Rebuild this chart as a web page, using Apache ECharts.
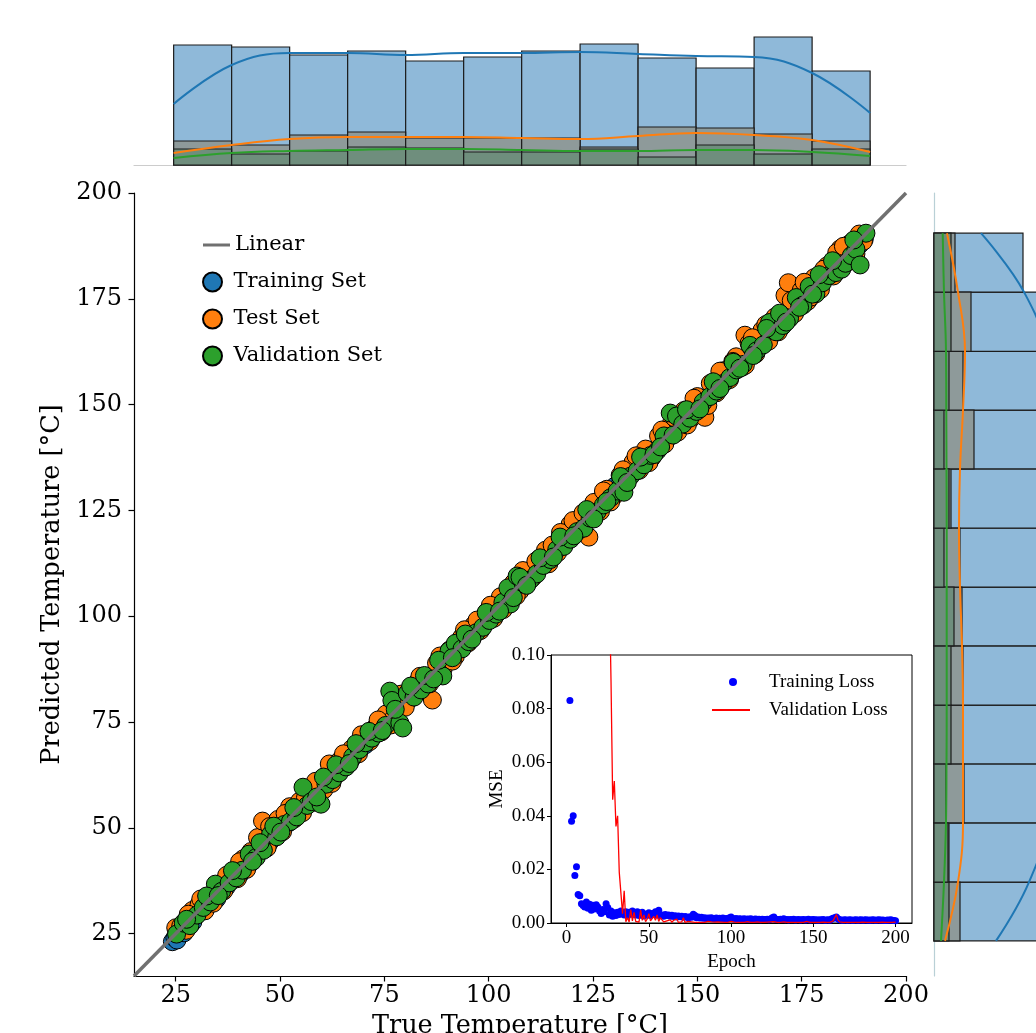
<!DOCTYPE html>
<html><head><meta charset="utf-8">
<script src="https://cdn.jsdelivr.net/npm/echarts@6/dist/echarts.min.js"></script>
<style>html,body{margin:0;padding:0;background:#fff}#c{width:1036px;height:1033px}</style>
</head><body><div id="c"></div>
<script>
// ---------- data ----------
const tickValues = [25, 50, 75, 100, 125, 150, 175, 200];
const epochTicks = [0, 50, 100, 150, 200];

const trainSet = [[24.2,23.1],[24.8,24.0],[25.3,23.5],[26.1,25.9],[27.0,25.2],[28.3,28.9],[29.1,27.8],[30.4,30.0],[31.2,31.9],[32.5,31.4],[33.6,34.1],[34.8,33.2],[35.9,36.4],[37.1,36.0],[38.2,37.4],[39.4,40.1],[40.5,39.2],[41.7,42.3],[42.8,41.6],[44.0,43.1],[45.1,44.6],[46.3,45.0],[47.4,46.5],[48.6,47.7],[49.7,49.1],[50.9,50.3],[52.0,51.2],[53.2,53.8],[54.3,53.5],[55.5,54.7],[56.6,56.9],[57.8,57.1],[58.9,58.4],[60.1,59.3],[61.2,61.8],[62.4,61.5],[63.5,63.9],[64.7,64.0],[65.8,65.2],[67.0,66.1],[68.1,67.4],[69.3,69.8],[70.4,69.6],[71.6,71.0],[72.7,72.3],[73.9,73.2],[75.0,74.4],[76.2,75.7],[77.3,76.5],[78.5,78.9],[79.6,79.1],[80.8,80.2],[81.9,81.6],[83.1,82.4],[84.2,84.6],[85.4,84.8],[86.5,86.0],[87.7,87.2],[88.8,89.5],[90.0,90.6],[91.1,90.4],[92.3,91.8],[93.4,93.0],[94.6,94.1],[95.7,95.2],[96.9,96.5],[98.0,98.4],[99.2,98.8],[100.3,100.0],[101.5,101.8],[102.6,102.1],[103.8,103.4],[104.9,104.5],[106.1,105.6],[107.2,107.0],[108.4,108.9],[109.5,109.1],[110.7,110.3],[111.8,111.5],[113.0,112.2],[114.1,113.6],[115.3,114.7],[116.4,116.1],[117.6,117.9],[118.7,118.3],[119.9,119.4],[121.0,121.7],[122.2,122.8],[123.3,123.0],[124.5,124.1],[125.6,125.9],[126.8,127.6],[127.9,127.3],[129.1,128.8],[130.2,130.7],[131.4,131.0],[132.5,132.0],[133.7,133.2],[134.8,134.1],[136.0,135.4],[137.1,136.6],[138.3,137.7],[139.4,139.0],[140.6,140.1],[141.7,141.2],[142.9,142.1],[144.0,143.4],[145.2,144.6],[146.3,145.8],[147.5,147.9],[148.6,148.1],[149.8,149.2],[150.9,150.3],[152.1,151.5],[153.2,152.7],[154.4,153.8],[155.5,155.1],[156.7,156.2],[157.8,157.3],[159.0,158.4],[160.1,159.6],[161.3,160.8],[162.4,161.7],[163.6,162.9],[164.7,164.0],[165.9,165.3],[167.0,166.3],[168.2,167.5],[169.3,168.6],[170.5,169.8],[171.6,170.9],[172.8,172.0],[173.9,173.3],[175.1,174.2],[176.2,175.6],[177.4,176.9],[178.5,177.7],[179.7,180.2],[180.8,180.1],[182.0,181.3],[183.1,182.5],[184.3,183.4],[185.4,184.8],[186.6,185.7],[187.7,186.9],[188.9,187.8],[190.0,189.1]];

const testSet = [[25.0,26.4],[26.2,26.8],[27.5,25.8],[29.0,30.5],[30.6,31.9],[32.0,30.4],[33.5,33.8],[35.2,36.6],[36.5,35.1],[38.1,39.3],[39.8,38.0],[41.2,42.7],[43.0,44.4],[44.6,47.7],[45.8,51.6],[46.9,45.3],[48.1,48.9],[49.5,52.0],[50.6,49.1],[52.3,55.0],[53.4,52.1],[54.7,56.3],[56.1,57.2],[57.8,56.0],[59.2,60.3],[60.5,59.0],[61.8,65.1],[63.1,62.2],[64.4,66.0],[66.0,64.9],[67.2,68.7],[68.8,67.5],[70.0,71.3],[71.5,70.4],[72.9,73.8],[74.3,72.7],[75.4,76.9],[77.0,75.6],[78.2,79.8],[80.0,78.5],[81.5,83.0],[82.9,84.4],[84.3,82.7],[86.5,80.2],[87.5,88.9],[89.1,87.6],[90.6,92.0],[92.0,90.5],[93.5,95.0],[95.1,93.7],[96.4,97.9],[98.0,96.6],[99.6,101.1],[101.2,99.5],[102.8,104.6],[104.3,103.0],[105.9,107.8],[107.5,106.0],[109.0,110.6],[110.6,109.2],[112.0,113.5],[113.6,115.6],[115.2,116.8],[116.5,115.0],[118.0,119.5],[119.5,121.7],[121.0,119.6],[124.0,118.7],[125.2,126.9],[126.8,124.8],[128.3,130.0],[130.0,128.4],[131.5,133.3],[133.0,131.6],[134.6,136.4],[136.1,134.5],[137.6,139.5],[139.1,137.5],[140.7,142.6],[142.2,140.7],[143.8,145.6],[145.3,143.5],[146.8,148.6],[148.4,146.6],[150.0,151.9],[151.8,147.0],[153.1,155.0],[154.6,152.8],[156.2,158.0],[157.7,155.9],[159.3,161.3],[160.8,158.9],[161.4,166.4],[162.4,164.5],[164.0,162.0],[165.5,167.6],[167.1,165.0],[168.6,170.7],[170.2,168.4],[171.0,175.8],[171.8,178.8],[173.3,171.5],[174.9,177.0],[176.4,174.4],[178.0,180.0],[179.5,177.2],[181.1,182.8],[182.6,180.4],[184.2,186.8],[185.7,183.5],[186.5,188.0],[187.3,185.5],[188.8,190.3],[189.8,188.6],
[28.0,29.6],[31.0,33.2],[34.0,32.2],[37.2,38.8],[40.3,42.0],[42.0,40.2],[47.5,50.3],[51.2,53.4],[55.4,53.6],[58.5,61.0],[62.4,60.5],[65.2,67.5],[69.5,72.0],[73.5,75.5],[76.5,74.3],[79.0,81.6],[83.5,85.8],[85.8,84.0],[88.3,90.6],[91.3,89.4],[94.2,96.8],[97.2,99.1],[100.4,102.6],[103.5,101.6],[106.6,104.8],[108.2,110.8],[111.3,113.0],[114.4,112.4],[117.2,119.8],[120.2,122.6],[122.6,124.4],[127.5,129.6],[129.2,127.0],[132.2,134.6],[135.3,137.9],[138.4,136.3],[141.5,144.0],[144.5,146.9],[147.6,145.2],[149.2,151.5],[152.5,149.8],[155.4,157.9],[158.5,160.2],[161.5,159.3],[163.2,165.8],[166.4,168.9],[169.4,167.2],[172.5,174.6],[175.6,178.9],[177.2,175.4],[180.3,182.0],[183.4,185.9],[185.0,187.4],[188.0,185.6]];

const valSet = [[25.2,24.9],[26.8,27.5],[28.4,26.9],[30.1,29.4],[31.6,31.2],[33.3,32.5],[34.5,36.7],[36.0,35.0],[37.8,37.0],[39.5,38.2],[41.0,40.0],[42.6,43.8],[44.3,43.0],[46.0,44.7],[47.7,48.4],[49.2,47.9],[51.0,50.8],[52.5,51.5],[54.0,52.6],[55.5,59.6],[56.5,55.3],[57.5,56.2],[59.8,55.6],[61.0,60.3],[62.6,61.4],[64.2,63.0],[65.8,64.4],[67.4,66.8],[69.0,68.5],[70.5,70.1],[72.0,71.2],[73.6,72.4],[75.3,74.2],[76.3,82.3],[76.8,80.1],[78.7,74.8],[79.4,73.6],[80.5,81.8],[82.1,80.9],[83.8,82.6],[85.5,84.0],[89.0,85.9],[90.5,91.8],[92.0,93.6],[93.6,92.3],[95.2,94.0],[97.0,96.1],[98.6,97.4],[100.2,99.0],[101.8,100.5],[103.4,103.3],[104.6,106.7],[105.2,102.9],[106.8,109.5],[108.3,107.6],[110.0,108.6],[111.5,110.0],[113.1,112.0],[114.8,113.4],[116.3,115.7],[118.0,116.5],[119.6,118.2],[121.2,120.0],[122.8,120.8],[124.3,123.2],[126.0,124.7],[127.5,126.3],[129.2,128.0],[130.8,129.6],[132.4,129.3],[134.0,133.1],[135.6,134.4],[137.2,135.8],[138.8,138.0],[140.4,139.1],[142.0,142.6],[143.5,148.0],[145.0,147.3],[146.5,145.4],[148.2,146.8],[149.8,148.4],[151.4,150.6],[153.0,151.9],[154.6,153.2],[156.2,155.0],[157.8,156.4],[159.4,158.2],[161.0,159.5],[162.6,164.0],[164.2,162.7],[165.8,164.1],[167.3,169.4],[168.9,167.2],[170.5,168.7],[172.1,170.4],[173.7,175.3],[175.3,173.5],[176.8,177.9],[178.4,176.2],[180.0,178.8],[181.6,180.5],[183.2,181.2],[184.6,182.0],[185.5,183.4],[186.9,185.2],[188.0,186.7],[189.0,183.0],[190.4,190.5],
[27.6,28.4],[32.4,33.9],[35.2,34.0],[38.6,39.9],[43.4,42.1],[45.2,46.5],[48.5,50.4],[50.2,49.0],[53.3,54.8],[58.8,57.3],[60.4,62.0],[63.4,64.9],[66.6,65.2],[68.2,69.9],[71.3,72.8],[74.5,73.0],[77.6,78.0],[81.3,83.5],[84.6,86.0],[86.8,85.2],[88.0,89.6],[91.3,90.2],[94.4,95.8],[96.0,94.6],[99.4,100.9],[102.6,101.2],[105.9,104.4],[107.5,109.2],[109.1,107.3],[112.3,113.8],[115.5,114.0],[117.1,118.7],[120.4,119.0],[123.5,125.2],[125.2,123.0],[128.3,127.1],[131.6,133.0],[133.2,131.6],[136.4,137.6],[139.6,138.2],[141.2,140.0],[144.2,142.8],[147.4,148.8],[150.6,149.0],[153.8,155.4],[155.4,153.8],[158.6,160.0],[160.2,158.6],[163.4,161.6],[166.6,168.0],[169.7,171.6],[171.3,169.5],[174.5,173.0],[177.6,176.1],[179.2,180.7],[182.4,184.0],[187.5,188.9]];

const identityLine = [[15, 15], [200, 200]];

// marginal histogram: true temperature (top)
const binEdgesX = [24.5, 38.4, 52.3, 66.2, 80.1, 94.0, 107.9, 121.9, 135.8, 149.7, 163.6, 177.5, 191.4];
const trainCountX = [120, 118, 110, 114, 104, 108, 114, 121, 107, 97, 128, 94];
const testCountX  = [24, 20, 30, 33, 27, 27, 27, 18, 38, 37, 31, 24];
const valCountX   = [16, 11, 14, 18, 17, 13, 13, 16, 8, 20, 11, 16];
const trainKdeX = [61, 100, 112, 112, 110, 112, 112, 113, 111, 109, 108, 92, 52];
const testKdeX  = [12, 20, 26, 28, 28, 28, 27, 26, 29, 32, 30, 25, 13];
const valKdeX   = [7, 12, 14, 15, 16, 16, 15, 14, 14, 15, 15, 13, 9];

// marginal histogram: predicted temperature (right)
const binEdgesY = [23.3, 37.2, 51.2, 65.1, 79.0, 93.0, 106.9, 120.8, 134.8, 148.7, 162.6, 176.6, 190.5];
const trainCountY = [125, 118, 112, 110, 115, 108, 112, 117, 109, 114, 120, 89];
const testCountY  = [26, 15, 30, 29, 29, 28, 26, 17, 40, 29, 37, 21];
const valCountY   = [15, 14, 12, 17, 17, 20, 10, 15, 10, 15, 17, 17];
const trainKdeY = [62, 95, 112, 113, 112, 111, 111, 112, 112, 111, 110, 90, 47];
const testKdeY  = [11, 24, 29, 29, 29, 28, 26, 25, 26, 29, 31, 24, 13];
const valKdeY   = [7, 10, 12, 12.5, 12.7, 12.7, 12.7, 12.7, 12.5, 12.3, 12, 10, 8.7];

// inset: loss curves (epochs 1..200)
const trainLoss = [
0.115,0.083,0.038,0.040,0.0177,0.021,0.0106,0.0102,0.0072,0.0065,0.0060,0.0078,0.0055,0.0070,0.0048,0.0066,0.0052,0.0068,0.0060,0.0045,
0.0035,0.0050,0.0042,0.0072,0.0058,0.0030,0.0045,0.0025,0.0038,0.0028,0.0040,0.0032,0.0045,0.0035,0.0030,0.0042,0.0028,0.0040,0.0033,0.0045,
0.0038,0.0030,0.0042,0.0028,0.0035,0.0040,0.0026,0.0033,0.0030,0.0038,0.0028,0.0035,0.0032,0.0042,0.0030,0.0048,0.0027,0.0030,0.0025,0.0032,
0.0028,0.0030,0.0025,0.0029,0.0024,0.0027,0.0022,0.0026,0.0023,0.0025,0.0021,0.0024,0.0022,0.0020,0.0023,0.0021,0.0033,0.0028,0.0020,0.0022,
0.0019,0.0021,0.0018,0.0020,0.0017,0.0019,0.0018,0.0020,0.0017,0.0016,0.0019,0.0017,0.0018,0.0016,0.0019,0.0015,0.0017,0.0016,0.0020,0.0022,
0.0016,0.0015,0.0017,0.0014,0.0016,0.0015,0.0014,0.0016,0.0013,0.0015,0.0014,0.0016,0.0013,0.0014,0.0015,0.0013,0.0014,0.0012,0.0014,0.0013,
0.0013,0.0014,0.0012,0.0015,0.0020,0.0022,0.0014,0.0013,0.0012,0.0014,0.0013,0.0016,0.0012,0.0013,0.0011,0.0013,0.0012,0.0014,0.0011,0.0012,
0.0013,0.0011,0.0012,0.0013,0.0011,0.0012,0.0014,0.0011,0.0012,0.0013,0.0011,0.0012,0.0010,0.0012,0.0011,0.0013,0.0010,0.0011,0.0012,0.0010,
0.0015,0.0018,0.0020,0.0022,0.0016,0.0012,0.0011,0.0010,0.0012,0.0011,0.0010,0.0012,0.0011,0.0010,0.0011,0.0012,0.0010,0.0011,0.0012,0.0010,
0.0011,0.0012,0.0010,0.0011,0.0010,0.0012,0.0011,0.0010,0.0011,0.0012,0.0010,0.0011,0.0010,0.0009,0.0011,0.0010,0.0012,0.0010,0.0009,0.0008];

const valLoss = [
1.9,1.5,1.2,1.0,0.85,0.75,0.66,0.6,0.54,0.49,0.45,0.41,0.38,0.35,0.32,0.3,0.28,0.26,0.24,0.22,
0.2,0.185,0.17,0.155,0.14,0.125,0.09,0.046,0.053,0.036,0.040,0.019,0.0195,0.0035,0.012,0.0005,0.0020,0.0004,0.0050,0.0008,
0.0040,0.0006,0.0012,0.0003,0.0048,0.0010,0.0030,0.0005,0.0015,0.0035,0.0008,0.0004,0.0025,0.0010,0.0030,0.0006,0.0020,0.0012,0.0004,0.0002,
0.0008,0.0003,0.0012,0.0002,0.0010,0.0003,0.0015,0.0002,0.0008,0.0004,0.0020,0.0002,0.0003,0.0006,0.0002,0.0004,0.0003,0.0002,0.0005,0.0002,
0.0003,0.0002,0.0004,0.0002,0.0003,0.0006,0.0010,0.0004,0.0002,0.0003,0.0002,0.0004,0.0002,0.0003,0.0002,0.0002,0.0004,0.0002,0.0003,0.0006,
0.0002,0.0003,0.0002,0.0002,0.0004,0.0002,0.0003,0.0002,0.0002,0.0005,0.0002,0.0002,0.0003,0.0002,0.0002,0.0004,0.0002,0.0002,0.0003,0.0002,
0.0002,0.0003,0.0002,0.0004,0.0008,0.0005,0.0002,0.0002,0.0003,0.0002,0.0002,0.0004,0.0002,0.0002,0.0003,0.0002,0.0002,0.0002,0.0003,0.0002,
0.0002,0.0002,0.0003,0.0002,0.0002,0.0006,0.0002,0.0002,0.0003,0.0002,0.0002,0.0002,0.0004,0.0002,0.0002,0.0003,0.0002,0.0002,0.0005,0.0002,
0.0003,0.0008,0.0015,0.0032,0.0012,0.0004,0.0002,0.0002,0.0003,0.0002,0.0002,0.0002,0.0003,0.0002,0.0002,0.0002,0.0004,0.0002,0.0002,0.0003,
0.0002,0.0002,0.0003,0.0002,0.0002,0.0002,0.0004,0.0002,0.0005,0.0002,0.0002,0.0003,0.0002,0.0002,0.0004,0.0002,0.0006,0.0002,0.0002,0.0003];

// ---------- build ----------
const SERIF = 'DejaVu Serif';
const TIMES = 'Liberation Serif';
const C_BLUE = '#1f77b4', C_ORANGE = '#ff7f0e', C_GREEN = '#2ca02c';
const F_TRAIN = '#8fb9d9', F_TEST = '#8e9a9a', F_VAL = '#6f8e7d';

function binsX(counts) { return counts.map((c, i) => [binEdgesX[i], binEdgesX[i + 1], c]); }
function binsY(counts) { return counts.map((c, i) => [binEdgesY[i], binEdgesY[i + 1], c]); }
function kdeX(v) { return v.map((h, i) => [binEdgesX[i], h]); }
function kdeY(v) { return v.map((w, i) => [w, binEdgesY[i]]); }
const epochPairs = arr => arr.map((v, i) => [i + 1, v]);

function vHist(fill) {
  return function (params, api) {
    const p0 = api.coord([api.value(0), 0]);
    const p1 = api.coord([api.value(1), api.value(2)]);
    return { type: 'rect', shape: { x: p0[0], y: p1[1], width: p1[0] - p0[0], height: p0[1] - p1[1] },
      style: { fill: fill, stroke: '#1c1c1c', lineWidth: 1.2 } };
  };
}
function hHist(fill) {
  return function (params, api) {
    const p0 = api.coord([0, api.value(0)]);
    const p1 = api.coord([api.value(2), api.value(1)]);
    return { type: 'rect', shape: { x: p0[0], y: p1[1], width: p1[0] - p0[0], height: p0[1] - p1[1] },
      style: { fill: fill, stroke: '#1c1c1c', lineWidth: 1.2 } };
  };
}

const mainTick = { show: true, inside: false, length: 5.5, customValues: tickValues, lineStyle: { color: '#000', width: 1.2 } };
const mainLabel = { customValues: tickValues, fontFamily: SERIF, fontSize: 24, color: '#000', margin: 8 };
const axisBlack = { show: true, lineStyle: { color: '#000', width: 1.2 } };
const legText = { fontFamily: SERIF, fontSize: 21, color: '#000', lineHeight: 24 };
const insetText = { fontFamily: TIMES, fontSize: 19, color: '#000', lineHeight: 22 };

const chart = echarts.init(document.getElementById('c'), null, { renderer: 'canvas' });
chart.setOption({
  animation: false,
  backgroundColor: '#fff',
  grid: [
    { left: 134, top: 193, width: 772, height: 783, outerBoundsMode: 'none' },
    { left: 134, top: 30, width: 772, height: 135, outerBoundsMode: 'none' },
    { left: 934, top: 193, width: 135, height: 783, outerBoundsMode: 'none' },
    { left: 551, top: 655, width: 361, height: 268, show: true, backgroundColor: '#fff', borderColor: '#000', borderWidth: 1, outerBoundsMode: 'none', z: 10 }
  ],
  xAxis: [
    { gridIndex: 0, type: 'value', min: 15, max: 200, axisLine: axisBlack, axisTick: mainTick, axisLabel: mainLabel,
      splitLine: { show: false }, name: 'True Temperature [°C]', nameLocation: 'middle', nameGap: 36,
      nameTextStyle: { fontFamily: SERIF, fontSize: 25.5, color: '#000' } },
    { gridIndex: 1, type: 'value', min: 15, max: 200, axisLine: { show: true, lineStyle: { color: '#cccccc', width: 1.2 } },
      axisTick: { show: false }, axisLabel: { show: false }, splitLine: { show: false } },
    { gridIndex: 2, type: 'value', min: 0, max: 135, show: false },
    { gridIndex: 3, type: 'value', min: -9.5, max: 210, z: 11,
      axisLine: { show: true, onZero: false, lineStyle: { color: '#000', width: 1 } },
      axisTick: { show: true, length: 4, customValues: epochTicks, lineStyle: { color: '#000' } },
      axisLabel: { customValues: epochTicks, fontFamily: TIMES, fontSize: 19, color: '#000', margin: 6 },
      splitLine: { show: false }, name: 'Epoch', nameLocation: 'middle', nameGap: 30,
      nameTextStyle: { fontFamily: TIMES, fontSize: 19, color: '#000' } }
  ],
  yAxis: [
    { gridIndex: 0, type: 'value', min: 15, max: 200, axisLine: axisBlack, axisTick: mainTick,
      axisLabel: Object.assign({}, mainLabel, { margin: 12 }), splitLine: { show: false },
      name: 'Predicted Temperature [°C]', nameLocation: 'middle', nameGap: 65,
      nameTextStyle: { fontFamily: SERIF, fontSize: 25.5, color: '#000' } },
    { gridIndex: 1, type: 'value', min: 0, max: 135, show: false },
    { gridIndex: 2, type: 'value', min: 15, max: 200, axisLine: { show: true, lineStyle: { color: '#b9d0d6', width: 1.2 } },
      axisTick: { show: false }, axisLabel: { show: false }, splitLine: { show: false } },
    { gridIndex: 3, type: 'value', min: 0, max: 0.1, interval: 0.02, z: 11,
      axisLine: { show: true, onZero: false, lineStyle: { color: '#000', width: 1 } },
      axisTick: { show: true, length: 4, lineStyle: { color: '#000' } },
      axisLabel: { formatter: v => v.toFixed(2), fontFamily: TIMES, fontSize: 19, color: '#000', margin: 6 },
      splitLine: { show: false }, name: 'MSE', nameLocation: 'middle', nameGap: 44,
      nameTextStyle: { fontFamily: TIMES, fontSize: 19, color: '#000' } }
  ],
  legend: [
    { data: [{ name: 'Linear', icon: 'rect' }], left: 198, top: 228, padding: 5, itemWidth: 27, itemHeight: 3, orient: 'vertical',
      textStyle: legText },
    { data: [{ name: 'Training Set', icon: 'circle' }, { name: 'Test Set', icon: 'circle' }, { name: 'Validation Set', icon: 'circle' }],
      left: 197, top: 265, padding: 5, itemWidth: 32, itemHeight: 19, itemGap: 13, orient: 'vertical',
      textStyle: legText },
    { data: [{ name: 'Training Loss', icon: 'circle' }], left: 729, top: 671, padding: 0, itemWidth: 8, itemHeight: 8, orient: 'vertical', z: 12,
      textStyle: Object.assign({}, insetText, { padding: [0, 0, 0, 27] }) },
    { data: [{ name: 'Validation Loss', icon: 'rect' }], left: 712, top: 699, padding: 0, itemWidth: 38, itemHeight: 2, orient: 'vertical', z: 12,
      textStyle: Object.assign({}, insetText, { padding: [0, 0, 0, 14] }) }
  ],
  series: [
    { name: 'Training Set', type: 'scatter', xAxisIndex: 0, yAxisIndex: 0, data: trainSet, symbolSize: 18, z: 2,
      itemStyle: { color: C_BLUE, borderColor: '#000', borderWidth: 1, opacity: 1 } },
    { name: 'Test Set', type: 'scatter', xAxisIndex: 0, yAxisIndex: 0, data: testSet, symbolSize: 18, z: 3,
      itemStyle: { color: C_ORANGE, borderColor: '#000', borderWidth: 1, opacity: 1 } },
    { name: 'Validation Set', type: 'scatter', xAxisIndex: 0, yAxisIndex: 0, data: valSet, symbolSize: 18, z: 4,
      itemStyle: { color: C_GREEN, borderColor: '#000', borderWidth: 1, opacity: 1 } },
    { name: 'Linear', type: 'line', xAxisIndex: 0, yAxisIndex: 0, data: identityLine, showSymbol: false, symbol: 'none', z: 5,
      color: '#707070', itemStyle: { color: '#707070' }, lineStyle: { color: '#707070', width: 3.5 } },

    { type: 'custom', xAxisIndex: 1, yAxisIndex: 1, data: binsX(trainCountX), renderItem: vHist(F_TRAIN), z: 2, encode: { x: [0, 1], y: 2 } },
    { type: 'custom', xAxisIndex: 1, yAxisIndex: 1, data: binsX(testCountX), renderItem: vHist(F_TEST), z: 3, encode: { x: [0, 1], y: 2 } },
    { type: 'custom', xAxisIndex: 1, yAxisIndex: 1, data: binsX(valCountX), renderItem: vHist(F_VAL), z: 4, encode: { x: [0, 1], y: 2 } },
    { type: 'line', xAxisIndex: 1, yAxisIndex: 1, data: kdeX(trainKdeX), smooth: 0.4, showSymbol: false, z: 6, lineStyle: { color: C_BLUE, width: 2 } },
    { type: 'line', xAxisIndex: 1, yAxisIndex: 1, data: kdeX(testKdeX), smooth: 0.4, showSymbol: false, z: 6, lineStyle: { color: C_ORANGE, width: 2 } },
    { type: 'line', xAxisIndex: 1, yAxisIndex: 1, data: kdeX(valKdeX), smooth: 0.4, showSymbol: false, z: 6, lineStyle: { color: C_GREEN, width: 2 } },

    { type: 'custom', xAxisIndex: 2, yAxisIndex: 2, data: binsY(trainCountY), renderItem: hHist(F_TRAIN), z: 2, encode: { y: [0, 1], x: 2 } },
    { type: 'custom', xAxisIndex: 2, yAxisIndex: 2, data: binsY(testCountY), renderItem: hHist(F_TEST), z: 3, encode: { y: [0, 1], x: 2 } },
    { type: 'custom', xAxisIndex: 2, yAxisIndex: 2, data: binsY(valCountY), renderItem: hHist(F_VAL), z: 4, encode: { y: [0, 1], x: 2 } },
    { type: 'line', xAxisIndex: 2, yAxisIndex: 2, data: kdeY(trainKdeY), smooth: 0.4, showSymbol: false, z: 6, lineStyle: { color: C_BLUE, width: 2 } },
    { type: 'line', xAxisIndex: 2, yAxisIndex: 2, data: kdeY(testKdeY), smooth: 0.4, showSymbol: false, z: 6, lineStyle: { color: C_ORANGE, width: 2 } },
    { type: 'line', xAxisIndex: 2, yAxisIndex: 2, data: kdeY(valKdeY), smooth: 0.4, showSymbol: false, z: 6, lineStyle: { color: C_GREEN, width: 2 } },

    { name: 'Training Loss', type: 'scatter', xAxisIndex: 3, yAxisIndex: 3, data: epochPairs(trainLoss), symbolSize: 7, z: 12, clip: true,
      itemStyle: { color: '#0000ff', opacity: 1 } },
    { name: 'Validation Loss', type: 'line', xAxisIndex: 3, yAxisIndex: 3, data: epochPairs(valLoss), showSymbol: false, symbol: 'none', z: 13, clip: true,
      color: '#ff0000', itemStyle: { color: '#ff0000' }, lineStyle: { color: '#ff0000', width: 1.3 } }
  ]
});
</script></body></html>
